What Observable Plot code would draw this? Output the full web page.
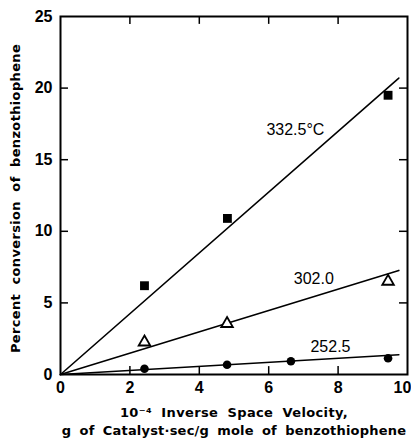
<!DOCTYPE html>
<html><head><meta charset="utf-8">
<script src="https://cdn.jsdelivr.net/npm/d3@7"></script>
<script src="https://cdn.jsdelivr.net/npm/@observablehq/plot@0.6"></script>
<style>body{margin:0;background:#fff}</style>
</head><body><div id="chart"></div>
<script>
// Data
const temps = ["332.5", "302.0", "252.5"];
const x332 = [2.42, 4.81, 9.44];
const y332 = [6.2, 10.9, 19.5];
const x302 = [2.42, 4.8, 9.44];
const y302 = [2.26, 3.55, 6.5];
const x252 = [2.42, 4.8, 6.64, 9.44];
const y252 = [0.4, 0.68, 0.93, 1.14];
// fitted line endpoints (start at origin)
const fitX = [9.75, 9.75, 9.75];
const fitY = [20.7, 7.27, 1.38];
const labelText = ["332.5°C", "302.0", "252.5"];
const labelX = [6.77, 7.3, 7.78];
const labelY = [17.05, 6.7, 1.9];
const xTicks = [0, 2, 4, 6, 8, 10];
const yTicks = [0, 5, 10, 15, 20, 25];
const xTitle1 = "10⁻⁴ Inverse Space Velocity,";
const xTitle2 = "g of Catalyst·sec/g mole of benzothiophene";
const yTitle = "Percent conversion of benzothiophene";

const pts = (xs, ys) => xs.map((x, i) => ({x, y: ys[i]}));
const fits = temps.flatMap((t, i) => [{t, x: 0, y: 0}, {t, x: fitX[i], y: fitY[i]}]);
const labels = labelText.map((s, i) => ({s, x: labelX[i], y: labelY[i]}));
const innerX = xTicks.slice(1, -1), innerY = yTicks.slice(1, -1);

const font = "Liberation Sans, Arial, sans-serif";
const titleFont = "DejaVu Sans, sans-serif";
const chart = Plot.plot({
  width: 411, height: 443,
  marginLeft: 60, marginRight: 4, marginTop: 16, marginBottom: 69,
  x: {domain: [0, 10], axis: null},
  y: {domain: [0, 25], axis: null},
  style: {fontFamily: font, background: "#fff", color: "#000"},
  marks: [
    // inward ticks
    Plot.ruleX(innerX, {x: d => d, y1: 0, y2: 0.55, stroke: "#000", strokeWidth: 1.5}),
    Plot.ruleX(innerX, {x: d => d, y1: 24.45, y2: 25, stroke: "#000", strokeWidth: 1.5}),
    Plot.ruleY(innerY, {y: d => d, x1: 0, x2: 0.23, stroke: "#000", strokeWidth: 1.5}),
    Plot.ruleY(innerY, {y: d => d, x1: 9.77, x2: 10, stroke: "#000", strokeWidth: 1.5}),
    Plot.axisX({ticks: xTicks.slice(0, -1), label: null, tickSize: 0, tickPadding: 7, fontSize: 16, fontWeight: "bold", tickFormat: d => String(d)}),
    Plot.axisX({ticks: xTicks.slice(-1), label: null, tickSize: 0, tickPadding: 7, dx: -5, fontSize: 16, fontWeight: "bold", tickFormat: d => String(d)}),
    Plot.axisY({ticks: yTicks, label: null, tickSize: 0, tickPadding: 8, fontSize: 16, fontWeight: "bold", tickFormat: d => String(d)}),
    Plot.frame({stroke: "#000", strokeWidth: 2}),
    Plot.line(fits, {x: "x", y: "y", z: "t", stroke: "#000", strokeWidth: 1.6}),
    Plot.dot(pts(x332, y332), {x: "x", y: "y", symbol: "square", r: 5, fill: "#000"}),
    Plot.dot(pts(x302, y302), {x: "x", y: "y", symbol: "triangle", r: 4.3, stroke: "#000", strokeWidth: 1.8, fill: "#fff"}),
    Plot.dot(pts(x252, y252), {x: "x", y: "y", symbol: "circle", r: 4.3, fill: "#000"}),
    Plot.text(labels, {x: "x", y: "y", text: "s", fontSize: 16, fontFamily: font, fill: "#000"}),
    Plot.text([xTitle1], {frameAnchor: "bottom", dy: 42, text: d => d, fontSize: 13, fontFamily: titleFont, fontWeight: "bold", fill: "#000"}),
    Plot.text([xTitle2], {frameAnchor: "bottom", dx: 0, dy: 60, text: d => d, fontSize: 13, fontFamily: titleFont, fontWeight: "bold", fill: "#000"}),
    Plot.text([yTitle], {frameAnchor: "left", dx: -45, dy: 3, rotate: -90, textAnchor: "middle", text: d => d, fontSize: 13, fontFamily: titleFont, fontWeight: "bold", fill: "#000"})
  ]
});
document.getElementById("chart").appendChild(chart);
// widen spacing of the titles like the reference
d3.select(chart).selectAll("text").filter(function() {
  const t = this.textContent; return t === xTitle1 || t === yTitle;
}).attr("word-spacing", "4.5px").attr("letter-spacing", "0.35px");
d3.select(chart).selectAll("text").filter(function() {
  return this.textContent === xTitle2;
}).attr("word-spacing", "3.5px").attr("letter-spacing", "0.2px");
</script>
</body></html>
